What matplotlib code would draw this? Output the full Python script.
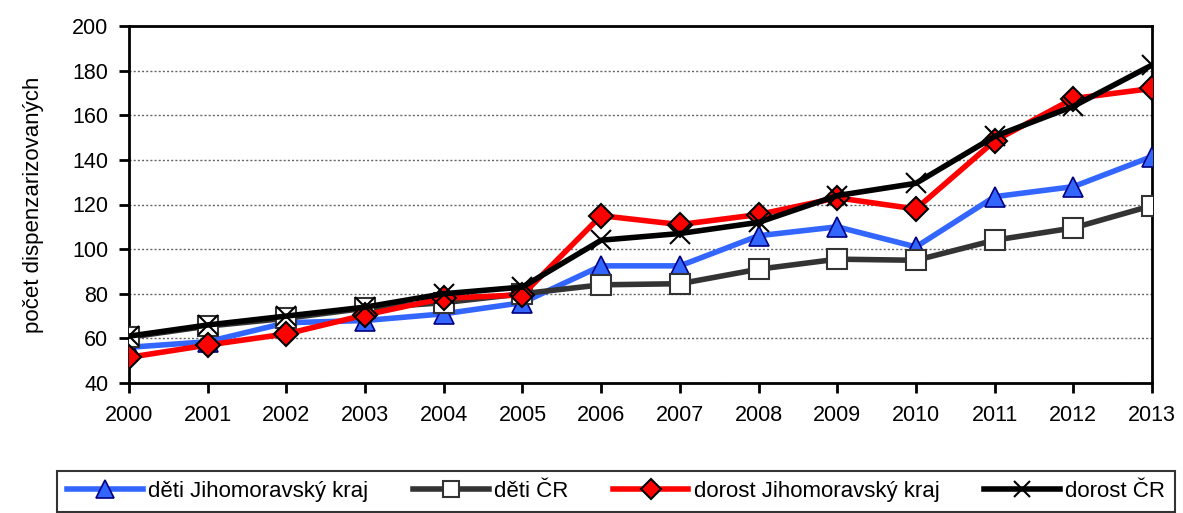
import matplotlib
matplotlib.use("Agg")
import matplotlib.pyplot as plt
from matplotlib import font_manager

# rodina písma - úzké Arial-like, pokud existuje
names = {f.name for f in font_manager.fontManager.ttflist}
narrow = "Liberation Sans Narrow" if "Liberation Sans Narrow" in names else "Liberation Sans"
plt.rcParams['font.family'] = [narrow, 'DejaVu Sans']

roky = [2000, 2001, 2002, 2003, 2004, 2005, 2006, 2007, 2008, 2009, 2010, 2011, 2012, 2013]
deti_jmk = [56, 58.5, 67, 68, 71, 76, 92.5, 92.5, 106, 110, 101, 123.5, 128, 141.5]
deti_cr = [60.5, 65.5, 69, 73.5, 76, 80, 84, 84.5, 91, 95.5, 95, 104, 109.5, 119.5]
dorost_jmk = [51.5, 57, 62, 70.5, 78, 79.5, 115, 111, 115.5, 123, 118, 148.5, 167.5, 172]
dorost_cr = [61, 66, 70, 74, 80, 83, 104, 107, 112, 124, 129.5, 150.5, 164, 182.5]
popisky = ["děti Jihomoravský kraj", "děti ČR", "dorost Jihomoravský kraj", "dorost ČR"]

fig = plt.figure(figsize=(11.83, 5.13), dpi=100)
ax = fig.add_axes([129/1183, 1 - 383/513, (1152 - 129)/1183, (383 - 26)/513])

ax.plot(roky, deti_jmk, color='#3366ff', lw=4, marker='^', ms=15,
        mfc='#3366ff', mec='#000080', mew=1.2, label=popisky[0], zorder=3)
ax.plot(roky, deti_cr, color='#333333', lw=4, marker='s', ms=14,
        mfc='white', mec='#333333', mew=1.5, label=popisky[1], zorder=3)
ax.plot(roky, dorost_jmk, color='#ff0000', lw=4, marker='D', ms=12,
        mfc='#ff0000', mec='black', mew=1.5, label=popisky[2], zorder=4)
ax.plot(roky, dorost_cr, color='black', lw=4, marker='x', ms=14,
        mec='black', mew=1.5, label=popisky[3], zorder=5)

ax.set_xlim(2000, 2013)
ax.set_ylim(40, 200)
ax.set_xticks(roky)
ax.set_yticks(range(40, 201, 20))
ax.tick_params(labelsize=15.5, direction='out', length=7, width=2)
ax.tick_params(axis='x', pad=9)
ax.tick_params(axis='y', pad=8)
ax.yaxis.grid(True, linestyle=(0, (1.5, 1.5)), color='#666666', lw=1)
ax.set_axisbelow(True)
for s in ax.spines.values():
    s.set_linewidth(2)
ax.set_ylabel("počet dispenzarizovaných", fontsize=16, labelpad=20)

leg = fig.legend(loc='lower center', bbox_to_anchor=(0.521, -0.02), ncol=4,
                 fontsize=16, frameon=True, fancybox=False, edgecolor='black',
                 handlelength=3.4, handletextpad=0.25, columnspacing=2.0,
                 borderpad=0.45, markerscale=0.85)
leg.get_frame().set_linewidth(1.5)

fig.savefig("out.png", dpi=100)
plt.close(fig)
